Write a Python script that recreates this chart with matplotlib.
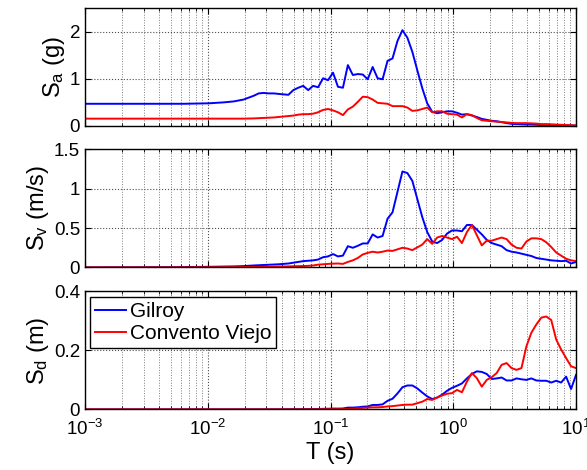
import matplotlib
matplotlib.use('Agg')
import matplotlib.pyplot as plt
import numpy as np
from matplotlib.ticker import LogLocator, FuncFormatter, NullFormatter

# period grid (s)
period = [0.001, 0.00254, 0.00643, 0.0102, 0.0135, 0.0163, 0.0196, 0.0237, 0.0260,
          0.0285, 0.0313, 0.0344, 0.0377,
          0.0413, 0.0454, 0.0498, 0.0546, 0.0599, 0.0658, 0.0722, 0.0792, 0.0870, 0.0955,
          0.1048, 0.1150, 0.1262, 0.1385, 0.1520, 0.1668, 0.1831, 0.2009, 0.2205, 0.2420,
          0.2656, 0.2915, 0.3199, 0.3511, 0.3854, 0.4229, 0.4642, 0.5094, 0.5591, 0.6136,
          0.6734, 0.7391, 0.8111, 0.8902, 0.9770, 1.0723, 1.1768, 1.2915, 1.4175, 1.5557,
          1.7074, 1.8738, 2.0565, 2.2570, 2.4771, 2.7186, 2.9836, 3.2745, 3.5938, 3.9442,
          4.3288, 4.7508, 5.2140, 5.7224, 6.2803, 6.8926, 7.5646, 8.3022, 9.1116, 10.0]

# spectral acceleration (g)
sa_gilroy = [0.47, 0.47, 0.47, 0.48, 0.50, 0.52, 0.56, 0.64, 0.69, 0.70, 0.69, 0.69, 0.68,
             0.67, 0.66, 0.76, 0.81, 0.85, 0.76, 0.85, 0.82, 1.01, 0.97,
             1.13, 0.83, 0.81, 1.29, 1.08, 1.10, 1.09, 0.99, 1.25, 1.01,
             0.99, 1.38, 1.43, 1.80, 2.03, 1.87, 1.57, 1.18, 0.80, 0.48,
             0.30, 0.27, 0.29, 0.31, 0.31, 0.28, 0.24, 0.25, 0.22, 0.19,
             0.15, 0.13, 0.11, 0.10, 0.08, 0.06, 0.045, 0.04, 0.035, 0.03,
             0.03, 0.025, 0.02, 0.02, 0.02, 0.02, 0.015, 0.015, 0.01, 0.01]
sa_convento = [0.155, 0.155, 0.155, 0.155, 0.155, 0.155, 0.155, 0.16, 0.165, 0.17, 0.175, 0.18, 0.19,
               0.20, 0.21, 0.22, 0.24, 0.25, 0.25, 0.26, 0.29, 0.34, 0.36,
               0.33, 0.29, 0.23, 0.35, 0.41, 0.51, 0.62, 0.61, 0.56, 0.49,
               0.48, 0.47, 0.42, 0.42, 0.42, 0.39, 0.32, 0.33, 0.36, 0.39,
               0.29, 0.31, 0.31, 0.26, 0.25, 0.24, 0.18, 0.25, 0.23, 0.17,
               0.12, 0.11, 0.10, 0.09, 0.085, 0.075, 0.065, 0.06, 0.06, 0.06,
               0.055, 0.05, 0.04, 0.04, 0.035, 0.03, 0.025, 0.02, 0.015, 0.01]

# spectral velocity (m/s)
sv_gilroy = [0.001, 0.002, 0.005, 0.008, 0.011, 0.013, 0.017, 0.025, 0.028, 0.031, 0.034, 0.037, 0.040,
             0.045, 0.05, 0.06, 0.07, 0.08, 0.085, 0.09, 0.10, 0.13, 0.14,
             0.17, 0.14, 0.15, 0.27, 0.25, 0.275, 0.305, 0.305, 0.42, 0.38,
             0.40, 0.62, 0.70, 0.96, 1.22, 1.20, 1.10, 0.87, 0.64, 0.45,
             0.33, 0.31, 0.35, 0.43, 0.47, 0.47, 0.46, 0.54, 0.54, 0.48,
             0.42, 0.35, 0.31, 0.29, 0.27, 0.22, 0.20, 0.19, 0.175, 0.16,
             0.145, 0.12, 0.11, 0.10, 0.09, 0.085, 0.08, 0.085, 0.05, 0.07]
sv_convento = [0.0003, 0.0006, 0.0016, 0.0025, 0.0033, 0.004, 0.005, 0.006, 0.007, 0.0075, 0.0085, 0.0095, 0.011,
               0.012, 0.013, 0.015, 0.016, 0.018, 0.02, 0.025, 0.035, 0.04, 0.045,
               0.048, 0.05, 0.045, 0.07, 0.09, 0.12, 0.165, 0.185, 0.20, 0.19,
               0.20, 0.215, 0.21, 0.23, 0.25, 0.24, 0.22, 0.255, 0.29, 0.36,
               0.30, 0.38, 0.40, 0.38, 0.36, 0.39, 0.31, 0.45, 0.54, 0.41,
               0.28, 0.34, 0.34, 0.36, 0.38, 0.36, 0.29, 0.25, 0.24, 0.33,
               0.37, 0.37, 0.36, 0.32, 0.26, 0.19, 0.15, 0.11, 0.09, 0.08]

# spectral displacement (m)
sd_gilroy = [0.0, 0.0, 0.0, 0.0, 0.0, 0.0, 0.0001, 0.0001, 0.0001, 0.0001, 0.0002, 0.0002, 0.0002,
             0.0003, 0.0004, 0.0005, 0.0006, 0.0008, 0.0009, 0.001, 0.0013, 0.0018, 0.0021,
             0.0028, 0.0026, 0.003, 0.006, 0.006, 0.007, 0.009, 0.01, 0.015, 0.015,
             0.017, 0.029, 0.036, 0.054, 0.075, 0.081, 0.081, 0.071, 0.057, 0.044,
             0.035, 0.04, 0.05, 0.063, 0.073, 0.08, 0.088, 0.105, 0.12, 0.129,
             0.127, 0.12, 0.103, 0.105, 0.108, 0.098, 0.098, 0.105, 0.102, 0.10,
             0.105, 0.098, 0.097, 0.097, 0.091, 0.097, 0.091, 0.111, 0.069, 0.117]
sd_convento = [0.0, 0.0, 0.0, 0.0, 0.0, 0.0, 0.0, 0.0, 0.0, 0.0, 0.0, 0.0, 0.0,
               0.0001, 0.0001, 0.0001, 0.0001, 0.0002, 0.0002, 0.0003, 0.0004, 0.0006, 0.0007,
               0.0008, 0.0009, 0.0009, 0.0015, 0.0022, 0.0032, 0.005, 0.006, 0.007, 0.007,
               0.008, 0.01, 0.011, 0.013, 0.015, 0.016, 0.016, 0.021, 0.026, 0.035,
               0.032, 0.040, 0.047, 0.053, 0.055, 0.066, 0.058, 0.094, 0.123, 0.106,
               0.077, 0.10, 0.109, 0.123, 0.151, 0.157, 0.14, 0.134, 0.14, 0.214,
               0.26, 0.288, 0.311, 0.315, 0.303, 0.237, 0.203, 0.174, 0.146, 0.14]

labels = ['Gilroy', 'Convento Viejo']
ylabels = ['S$_{\\rm a}$ (g)', 'S$_{\\rm v}$ (m/s)', 'S$_{\\rm d}$ (m)']
ylims = [(0, 2.5), (0, 1.5), (0, 0.4)]
yticks = [[0, 1, 2], [0, 0.5, 1, 1.5], [0, 0.2, 0.4]]

plt.rcParams['font.family'] = ['Liberation Sans', 'DejaVu Sans']
plt.rcParams['mathtext.fontset'] = 'custom'
plt.rcParams['mathtext.rm'] = 'Liberation Sans'
plt.rcParams['mathtext.it'] = 'Liberation Sans:italic'
plt.rcParams['font.size'] = 13

fig = plt.figure(figsize=(5.87, 4.70), dpi=100)
left, width, height = 0.1448, 0.8365, 0.251
bottoms = [0.732, 0.431, 0.129]

data = [(sa_gilroy, sa_convento), (sv_gilroy, sv_convento), (sd_gilroy, sd_convento)]

for i in range(3):
    ax = fig.add_axes([left, bottoms[i], width, height])
    g, c = data[i]
    ax.plot(period, g, color='b', lw=1.4, label=labels[0])
    ax.plot(period, c, color='r', lw=1.4, label=labels[1])
    ax.set_xscale('log')
    ax.set_xlim(1e-3, 10)
    ax.set_ylim(*ylims[i])
    ax.set_yticks(yticks[i])
    ax.yaxis.set_major_formatter(FuncFormatter(lambda v, p: '%g' % v))
    ax.xaxis.set_major_locator(LogLocator(base=10, numticks=10))
    ax.xaxis.set_minor_locator(LogLocator(base=10, subs=np.arange(2, 10), numticks=10))
    ax.xaxis.set_minor_formatter(NullFormatter())
    ax.grid(True, which='major', axis='both', linestyle=':', color='0.3', lw=0.8)
    ax.grid(True, which='minor', axis='x', linestyle=':', color='0.5', lw=0.7)
    ax.tick_params(which='both', direction='in', top=True, right=True, labelsize=13.5)
    ax.tick_params(axis='x', which='major', pad=7)
    ax.tick_params(which='major', length=4)
    ax.tick_params(which='minor', length=2)
    for s in ax.spines.values():
        s.set_linewidth(1.0)
    ax.set_ylabel(ylabels[i], fontsize=17, labelpad=2)
    if i < 2:
        ax.set_xticklabels([])
    else:
        ax.set_xlabel('T (s)', fontsize=17, labelpad=2)
        leg = ax.legend(loc='upper left', fontsize=15, fancybox=False, framealpha=1,
                        edgecolor='k', handlelength=1.45, borderpad=0.25,
                        labelspacing=0.15, handletextpad=0.2, borderaxespad=0.25)
        leg.get_frame().set_linewidth(1.0)

fig.savefig('out.png', dpi=100)
